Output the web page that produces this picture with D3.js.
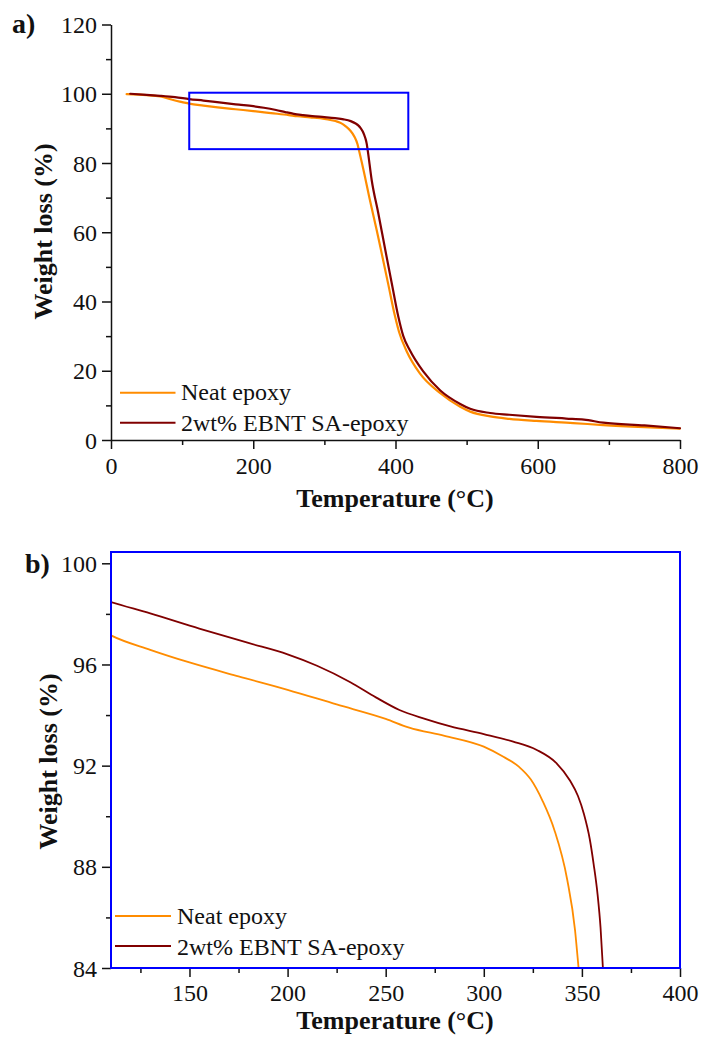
<!DOCTYPE html>
<html>
<head>
<meta charset="utf-8">
<script src="https://cdn.jsdelivr.net/npm/d3@7"></script>
<style>
  html, body { margin: 0; padding: 0; background: #fff; }
  svg { display: block; }
  text { font-family: "Liberation Serif", "Times New Roman", serif; fill: #111; }
</style>
</head>
<body>
<svg id="chart" width="701" height="1039"></svg>
<script>
// ---------- data ----------
const seriesNames = ["Neat epoxy", "2wt% EBNT SA-epoxy"];
const seriesColors = ["#ff8c00", "#800000"];

const tempNeat = [22, 50, 69, 90, 100, 110, 130, 150, 175, 200, 225, 250, 262, 280, 300, 310, 318, 324, 330, 336, 342.5, 346.5, 348.3,
  352, 355, 364, 373.6, 381, 390, 399, 405, 416, 434, 463, 491, 505, 533, 560, 598, 650, 692, 750, 800];
const weightNeat = [99.9, 99.6, 99.2, 98.05, 97.6, 97.15, 96.58, 96.08, 95.53, 95.0, 94.42, 93.85, 93.5, 93.18, 92.75, 92.35, 91.95, 91.45, 90.6, 89.45, 87.5, 85.5, 84.0,
  80.7, 78, 69.3, 60.6, 53.5, 44.8, 36, 31.2, 25.5, 19.3, 13.5, 9.6, 8.2, 6.8, 6.1, 5.5, 4.9, 4.3, 3.7, 3.3];

const tempEbnt = [27, 50, 69, 90, 110, 130, 155, 180, 200, 215, 232, 245, 257, 270, 283, 300, 315, 327, 337, 344, 348, 351, 354, 356, 358, 359.5, 360.7,
  366.5, 375.8, 386, 395, 404, 411, 420, 439, 463, 491, 505, 533, 560, 598, 640, 665, 692, 750, 800];
const weightEbnt = [100, 99.7, 99.4, 99.0, 98.47, 98.02, 97.42, 96.85, 96.4, 95.95, 95.3, 94.7, 94.2, 93.85, 93.55, 93.25, 92.95, 92.62, 92.1, 91.4, 90.8, 90.1, 89.1, 88.1, 86.9, 85.6, 84.0,
  75.1, 65.5, 54.5, 45, 35.6, 30, 26, 19.8, 14.3, 10.4, 9.0, 7.8, 7.3, 6.7, 6.2, 5.9, 5.0, 4.2, 3.4];

// panel a ticks
const aXMajor = [0, 200, 400, 600, 800];
const aXMinor = [100, 300, 500, 700];
const aYMajor = [0, 20, 40, 60, 80, 100, 120];
const aYMinor = [10, 30, 50, 70, 90, 110];
// zoom box (temperature / weight)
const zoomBoxT = [110, 418];
const zoomBoxW = [84, 100.3];

// panel b ticks
const bXMajor = [150, 200, 250, 300, 350, 400];
const bXMinor = [125, 175, 225, 275, 325, 375];
const bYMajor = [84, 88, 92, 96, 100];
const bYMinor = [86, 90, 94, 98];

const neat = tempNeat.map((t, i) => ({t, w: weightNeat[i]}));
const ebnt = tempEbnt.map((t, i) => ({t, w: weightEbnt[i]}));
const series = [neat, ebnt];

// ---------- drawing ----------
const svg = d3.select("#chart");
const FONT = "Liberation Serif, Times New Roman, serif";

function styleAxis(g, fontSize) {
  g.selectAll("text").style("font-family", FONT).style("font-size", fontSize + "px").attr("fill", "#111");
  g.selectAll("line").attr("stroke", "#111").attr("stroke-width", 1.5);
  g.selectAll("path.domain").attr("stroke", "#111").attr("stroke-width", 1.5);
}

// ===== Panel a =====
const ax = d3.scaleLinear().domain([0, 800]).range([111, 680]);
const ay = d3.scaleLinear().domain([0, 120]).range([440, 24.5]);

const ga = svg.append("g");
ga.append("g").attr("transform", "translate(0,440)")
  .call(d3.axisBottom(ax).tickValues(aXMinor).tickSize(5).tickFormat("").tickSizeOuter(0))
  .call(g => { g.select(".domain").remove(); styleAxis(g, 24); });
ga.append("g").attr("transform", "translate(111,0)")
  .call(d3.axisLeft(ay).tickValues(aYMinor).tickSize(5).tickFormat("").tickSizeOuter(0))
  .call(g => { g.select(".domain").remove(); styleAxis(g, 24); });
ga.append("g").attr("transform", "translate(0,440)")
  .call(d3.axisBottom(ax).tickValues(aXMajor).tickSize(9).tickPadding(8).tickSizeOuter(0).tickFormat(d3.format("d")))
  .call(g => styleAxis(g, 24));
ga.append("g").attr("transform", "translate(111,0)")
  .call(d3.axisLeft(ay).tickValues(aYMajor).tickSize(9).tickPadding(5).tickSizeOuter(0).tickFormat(d3.format("d")))
  .call(g => { styleAxis(g, 24); g.selectAll(".tick text").attr("dy", "0.34em"); });

const lineA = d3.line().x(d => ax(d.t)).y(d => ay(d.w)).curve(d3.curveMonotoneX);
series.forEach((s, i) => {
  ga.append("path").datum(s).attr("d", lineA)
    .attr("fill", "none").attr("stroke", seriesColors[i]).attr("stroke-width", 2.2)
    .attr("stroke-linejoin", "round").attr("stroke-linecap", "round");
});

ga.append("rect")
  .attr("x", ax(zoomBoxT[0])).attr("y", ay(zoomBoxW[1]))
  .attr("width", ax(zoomBoxT[1]) - ax(zoomBoxT[0]))
  .attr("height", ay(zoomBoxW[0]) - ay(zoomBoxW[1]))
  .attr("fill", "none").attr("stroke", "#0000ff").attr("stroke-width", 2);

const legA = [{y: 392.7, tb: 400}, {y: 422.7, tb: 430.5}];
seriesNames.forEach((n, i) => {
  ga.append("line").attr("x1", 120).attr("x2", 175.5).attr("y1", legA[i].y).attr("y2", legA[i].y)
    .attr("stroke", seriesColors[i]).attr("stroke-width", 2);
  ga.append("text").attr("x", 181).attr("y", legA[i].tb).text(n)
    .style("font-size", "24px");
});

ga.append("text").attr("x", 395).attr("y", 507).attr("text-anchor", "middle")
  .style("font-size", "26px").style("font-weight", "bold").text("Temperature (°C)");
ga.append("text").attr("transform", "translate(52,231.5) rotate(-90)").attr("text-anchor", "middle")
  .style("font-size", "26px").style("font-weight", "bold").text("Weight loss (%)");
ga.append("text").attr("x", 12).attr("y", 33).style("font-size", "28px").style("font-weight", "bold").text("a)");

// ===== Panel b =====
const bx = d3.scaleLinear().domain([110, 400]).range([111, 680]);
const by = d3.scaleLinear().domain([84, 100]).range([968, 563.3]);
const bTop = 552;

const gb = svg.append("g");
gb.append("defs").append("clipPath").attr("id", "clipB")
  .append("rect").attr("x", 111).attr("y", bTop).attr("width", 680 - 111).attr("height", 968 - bTop);

gb.append("g").attr("transform", "translate(0,968)")
  .call(d3.axisBottom(bx).tickValues(bXMinor).tickSize(5).tickFormat("").tickSizeOuter(0))
  .call(g => { g.select(".domain").remove(); styleAxis(g, 24); });
gb.append("g").attr("transform", "translate(111,0)")
  .call(d3.axisLeft(by).tickValues(bYMinor).tickSize(5).tickFormat("").tickSizeOuter(0))
  .call(g => { g.select(".domain").remove(); styleAxis(g, 24); });
gb.append("g").attr("transform", "translate(0,968)")
  .call(d3.axisBottom(bx).tickValues(bXMajor).tickSize(9).tickPadding(7).tickSizeOuter(0).tickFormat(d3.format("d")))
  .call(g => { g.select(".domain").remove(); styleAxis(g, 24); });
gb.append("g").attr("transform", "translate(111,0)")
  .call(d3.axisLeft(by).tickValues(bYMajor).tickSize(9).tickPadding(5).tickSizeOuter(0).tickFormat(d3.format("d")))
  .call(g => { g.select(".domain").remove(); styleAxis(g, 24); g.selectAll(".tick text").attr("dy", "0.34em"); });

const lineB = d3.line().x(d => bx(d.t)).y(d => by(d.w)).curve(d3.curveMonotoneX);
const curvesB = gb.append("g").attr("clip-path", "url(#clipB)");
series.forEach((s, i) => {
  curvesB.append("path").datum(s).attr("d", lineB)
    .attr("fill", "none").attr("stroke", seriesColors[i]).attr("stroke-width", 1.8)
    .attr("stroke-linejoin", "round");
});

gb.append("rect").attr("x", 111).attr("y", bTop).attr("width", 680 - 111).attr("height", 968 - bTop)
  .attr("fill", "none").attr("stroke", "#0000ff").attr("stroke-width", 2);

const legB = [{y: 916, tb: 924}, {y: 946, tb: 955}];
seriesNames.forEach((n, i) => {
  gb.append("line").attr("x1", 115).attr("x2", 171).attr("y1", legB[i].y).attr("y2", legB[i].y)
    .attr("stroke", seriesColors[i]).attr("stroke-width", 2);
  gb.append("text").attr("x", 177).attr("y", legB[i].tb).text(n).style("font-size", "24px");
});

gb.append("text").attr("x", 395).attr("y", 1029).attr("text-anchor", "middle")
  .style("font-size", "26px").style("font-weight", "bold").text("Temperature (°C)");
gb.append("text").attr("transform", "translate(57,761.5) rotate(-90)").attr("text-anchor", "middle")
  .style("font-size", "26px").style("font-weight", "bold").text("Weight loss (%)");
gb.append("text").attr("x", 25).attr("y", 573).style("font-size", "28px").style("font-weight", "bold").text("b)");
</script>
</body>
</html>
